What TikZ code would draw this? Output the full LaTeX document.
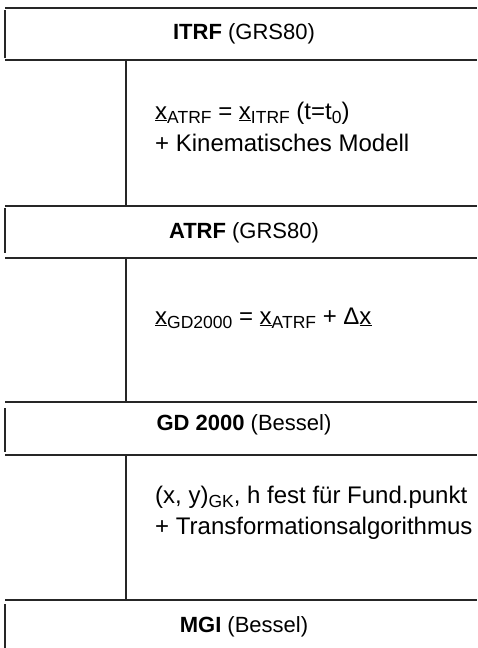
\documentclass[tikz,border=0pt]{standalone}
\usepackage{fontspec}
\setmainfont{Liberation Sans}
\newcommand\lsub[1]{\raisebox{-0.3ex}{\fontsize{17.5}{17.5}\selectfont #1}}
\newcommand\ux{\underline{x}}
\begin{document}
\begin{tikzpicture}[x=1pt,y=-1pt,
  rule/.style={line width=1.4pt,draw=black!85},
  title/.style={font=\fontsize{22}{26}\selectfont,anchor=center,inner sep=0pt},
  formula/.style={font=\fontsize{24}{28}\selectfont,anchor=west,inner sep=0pt}]
\useasboundingbox (0,0) rectangle (477,648);
% frame lines
\draw[rule] (5,8) -- (477,8);
\draw[rule] (5,10) -- (5,58);
\draw[rule] (5,60) -- (477,60);
\draw[rule] (126,60) -- (126,206);
\draw[rule] (5,206) -- (477,206);
\draw[rule] (5,208) -- (5,253);
\draw[rule] (5,258) -- (477,258);
\draw[rule] (126,258) -- (126,402);
\draw[rule] (5,402) -- (477,402);
\draw[rule] (5,408) -- (5,452);
\draw[rule] (5,455) -- (477,455);
\draw[rule] (126,455) -- (126,600);
\draw[rule] (5,600) -- (477,600);
\draw[rule] (5,604) -- (5,648);
% titles
\node[title] (itrf) at (244,34) {\textbf{ITRF} (GRS80)};
\node[title] (atrf) at (244,233) {\textbf{ATRF} (GRS80)};
\node[title] (gd) at (244,425) {\textbf{GD 2000} (Bessel)};
\node[title] (mgi) at (244,627) {\textbf{MGI} (Bessel)};
% formulas
\node[formula] (f1a) at (155,113) {\ux\lsub{ATRF} = \ux\lsub{ITRF} (t=t\lsub{0})};
\node[formula] (f1b) at (155,143) {+ Kinematisches Modell};
\node[formula] (f2) at (155,318) {\ux\lsub{GD2000} = \ux\lsub{ATRF} + Δ\ux};
\node[formula] (f3a) at (155,497) {(x, y)\lsub{GK}, h fest für Fund.punkt};
\node[formula] (f3b) at (155,528) {+ Transformationsalgorithmus};
\end{tikzpicture}
\end{document}
